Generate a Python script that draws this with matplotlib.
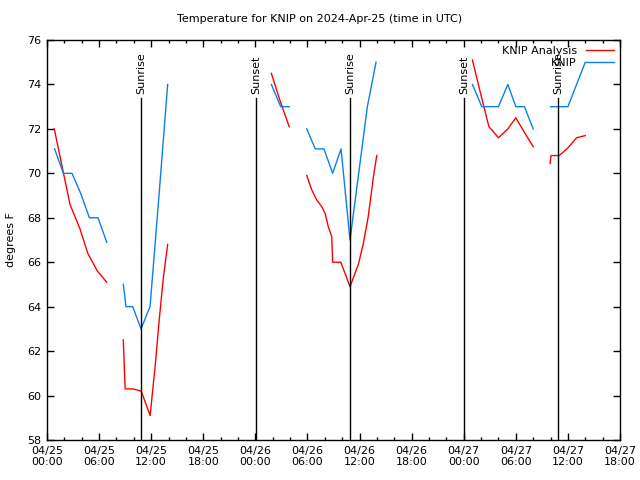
import matplotlib
matplotlib.use("Agg")
import matplotlib.pyplot as plt
from matplotlib.ticker import MultipleLocator

# time is hours since 2024-04-25 00:00 UTC; gaps split the series into segments
anl_t = [
    [0.84, 1.85, 2.65, 3.8, 4.7, 5.8, 6.88],
    [8.79, 9.0, 9.9, 10.85, 11.88, 12.5, 12.9, 13.4, 13.9],
    [25.84, 26.9, 27.9],
    [29.92, 30.5, 31.07, 31.65, 32.03, 32.4, 32.8, 32.9, 33.84, 34.9,
     35.86, 36.44, 37.0, 37.6, 37.98],
    [49.0, 50.0, 50.9, 52.0, 53.08, 54.0, 54.9, 56.0],
    [57.95, 58.05, 59.0, 59.9, 61.0, 62.0],
]
anl_v = [
    [72.0, 70.1, 68.6, 67.5, 66.4, 65.6, 65.1],
    [62.5, 60.3, 60.3, 60.2, 59.1, 61.5, 63.3, 65.3, 66.8],
    [74.5, 73.2, 72.1],
    [69.9, 69.25, 68.8, 68.5, 68.2, 67.6, 67.15, 66.0, 66.0, 64.9,
     65.9, 66.85, 68.05, 69.85, 70.8],
    [75.1, 73.5, 72.1, 71.6, 72.0, 72.5, 71.9, 71.2],
    [70.45, 70.8, 70.8, 71.1, 71.6, 71.7],
]

obs_t = [
    [0.88, 1.88, 2.88, 3.88, 4.88, 5.88, 6.88],
    [8.79, 9.1, 9.87, 10.83, 11.87, 12.9, 13.9],
    [25.84, 26.92, 27.9],
    [29.92, 30.9, 31.9, 32.9, 33.87, 34.9, 35.9, 36.9, 37.9],
    [49.0, 50.08, 50.9, 52.0, 53.08, 54.0, 54.99, 56.0],
    [58.0, 59.0, 60.0, 61.0, 62.0],
]
obs_v = [
    [71.1, 70.0, 70.0, 69.1, 68.0, 68.0, 66.9],
    [65.0, 64.0, 64.0, 63.0, 64.0, 69.0, 74.0],
    [74.0, 73.0, 73.0],
    [72.0, 71.1, 71.1, 70.0, 71.1, 67.0, 70.0, 73.0, 75.0],
    [74.0, 73.0, 73.0, 73.0, 74.0, 73.0, 73.0, 72.0],
    [73.0, 73.0, 73.0, 74.0, 75.0],
]

sun_t = [10.83, 24.08, 34.9, 48.04, 58.87]
sun_lbl = ["Sunrise", "Sunset", "Sunrise", "Sunset", "Sunrise"]

xtick_hours = [0, 6, 12, 18, 24, 30, 36, 42, 48, 54, 60, 66]
xtick_lbls = ["04/25\n00:00", "04/25\n06:00", "04/25\n12:00", "04/25\n18:00",
              "04/26\n00:00", "04/26\n06:00", "04/26\n12:00", "04/26\n18:00",
              "04/27\n00:00", "04/27\n06:00", "04/27\n12:00", "04/27\n18:00"]

plt.rcParams["font.family"] = ["DejaVu Sans"]
plt.rcParams["font.size"] = 8

fig = plt.figure(figsize=(6.4, 4.8), dpi=100)
ax = fig.add_axes([47 / 640, 40 / 480, 573 / 640, 400 / 480])

red, blue = "#ff0000", "#0a80f0"
for i, (t, v) in enumerate(zip(anl_t, anl_v)):
    ax.plot(t, v, color=red, lw=1, label="KNIP Analysis" if i == 0 else None)
for i, (t, v) in enumerate(zip(obs_t, obs_v)):
    ax.plot(t, v, color=blue, lw=1, label="KNIP" if i == 0 else None)

for t, lbl in zip(sun_t, sun_lbl):
    ax.plot([t, t], [58, 73.4], color="black", lw=1)
    ax.text(t, 73.55, lbl, rotation=90, ha="center", va="bottom", fontsize=8)

ax.set_xlim(0, 66)
ax.set_ylim(58, 76)
ax.set_xticks(xtick_hours)
ax.set_xticklabels(xtick_lbls)
ax.xaxis.set_minor_locator(MultipleLocator(2))
ax.yaxis.set_major_locator(MultipleLocator(2))
ax.tick_params(which="both", direction="in", top=True, right=True, width=1)
ax.tick_params(which="major", length=5, pad=4)
ax.tick_params(which="minor", length=2.5)
for s in ax.spines.values():
    s.set_linewidth(1)

ax.set_ylabel("degrees F", labelpad=8)
fig.text(0.5, 1 - 19 / 480, "Temperature for KNIP on 2024-Apr-25 (time in UTC)",
         ha="center", va="center", fontsize=8)

# gnuplot-style key: text first, sample line on the right, no frame
ax.legend(loc="upper right", frameon=False, markerfirst=False, handlelength=2.6,
          borderaxespad=0.3, borderpad=0.2, labelspacing=0.2, handletextpad=0.8,
          fontsize=8)

fig.savefig("out.png", dpi=100)
